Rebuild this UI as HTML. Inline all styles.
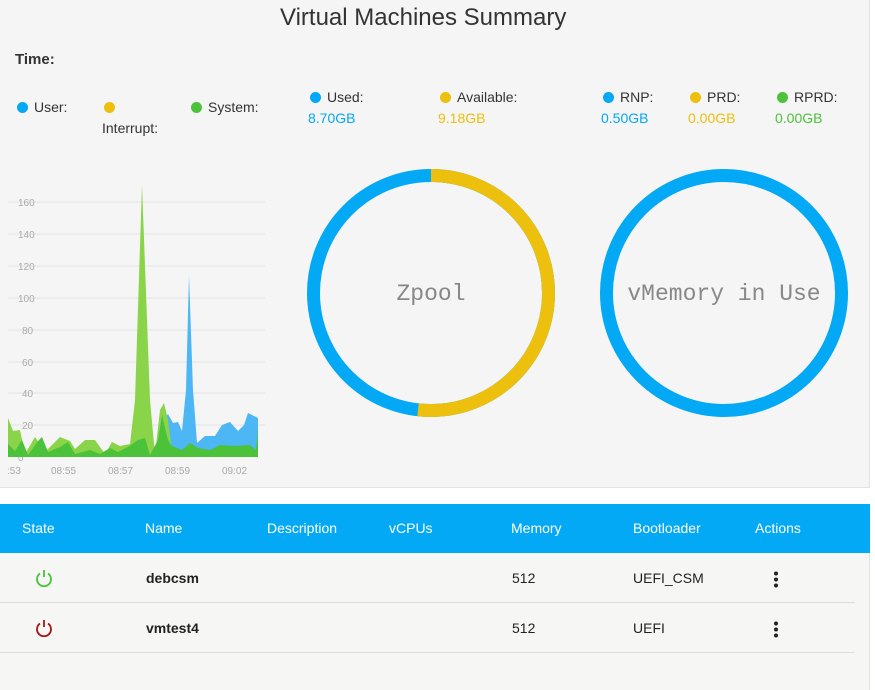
<!DOCTYPE html>
<html><head><meta charset="utf-8"><style>
*{margin:0;padding:0;box-sizing:border-box}
body{width:875px;height:690px;background:#fff;font-family:"Liberation Sans",sans-serif;position:relative;overflow:hidden}
.top{position:absolute;left:0;top:0;width:870px;height:488px;background:#f5f5f5;border-right:1px solid #e2e2e2;border-bottom:1px solid #e2e2e2}
.t{position:absolute;font-size:14px;color:#333}
.dot{display:inline-block;width:11px;height:11px;border-radius:50%;margin-right:6px;vertical-align:-1px}
.hdr{position:absolute;left:0;top:504px;width:870px;height:49px;background:#03a9f4}
.hdr span{position:absolute;top:16px;color:#fff;font-size:14px}
.rows{position:absolute;left:0;top:553px;width:870px;height:137px;background:#f6f6f4;border-right:1px solid #e2e2e2}
.row{position:absolute;left:0;width:855px;height:50px;border-bottom:1px solid #ddd}
.row span{position:absolute;top:17px;font-size:14px;color:#222}
</style></head><body>
<div class="top"></div>
<div class="t" style="left:280px;top:4px;font-size:24px;color:#333">Virtual Machines Summary</div>
<div class="t" style="left:15px;top:51px;font-weight:bold;font-size:15px">Time:</div>
<div class="t" style="left:17px;top:99px"><span class="dot" style="background:#03a9f4"></span>User:</div>
<div class="t" style="left:104px;top:99px"><span class="dot" style="background:#ecc00c"></span></div>
<div class="t" style="left:102px;top:120px">Interrupt:</div>
<div class="t" style="left:191px;top:99px"><span class="dot" style="background:#4cc23a"></span>System:</div>
<div class="t" style="left:310px;top:89px"><span class="dot" style="background:#03a9f4"></span>Used:</div>
<div class="t" style="left:308px;top:110px;color:#03a9f4">8.70GB</div>
<div class="t" style="left:440px;top:89px"><span class="dot" style="background:#ecc00c"></span>Available:</div>
<div class="t" style="left:438px;top:110px;color:#ecc00c">9.18GB</div>
<div class="t" style="left:603px;top:89px"><span class="dot" style="background:#03a9f4"></span>RNP:</div>
<div class="t" style="left:601px;top:110px;color:#03a9f4">0.50GB</div>
<div class="t" style="left:690px;top:89px"><span class="dot" style="background:#ecc00c"></span>PRD:</div>
<div class="t" style="left:688px;top:110px;color:#ecc00c">0.00GB</div>
<div class="t" style="left:777px;top:89px"><span class="dot" style="background:#4cc23a"></span>RPRD:</div>
<div class="t" style="left:775px;top:110px;color:#4cc23a">0.00GB</div>

<svg style="position:absolute;left:0;top:0" width="875" height="490">
<g stroke="#e4e4e4" stroke-width="1">
<line x1="8" x2="265" y1="202" y2="202"/><line x1="8" x2="265" y1="234" y2="234"/>
<line x1="8" x2="265" y1="266" y2="266"/><line x1="8" x2="265" y1="298" y2="298"/>
<line x1="8" x2="265" y1="330" y2="330"/><line x1="8" x2="265" y1="362" y2="362"/>
<line x1="8" x2="265" y1="393" y2="393"/><line x1="8" x2="265" y1="425" y2="425"/>
</g>
<g font-size="10" fill="#aaa" font-family="Liberation Sans,sans-serif">
<text x="18" y="206">160</text><text x="18" y="238">140</text><text x="18" y="270">120</text>
<text x="18" y="302">100</text><text x="22" y="334">80</text><text x="22" y="366">60</text>
<text x="22" y="397">40</text><text x="22" y="429">20</text><text x="18" y="461">0</text>
<text x="7" y="474">:53</text><text x="51" y="474">08:55</text><text x="108" y="474">08:57</text>
<text x="165" y="474">08:59</text><text x="222" y="474">09:02</text>
</g>
<path fill="#4db6f5" d="M160 457 L163 420 L168 414 L173 423 L178 422 L182 431 L186 390 L189 275 L193 390 L197 443 L205 436 L215 436 L222 425 L230 422 L238 431 L244 425 L248 413 L254 416 L258 418 L258 457Z"/>
<path fill="#8ad44a" d="M8 457 L8 418 L13 431 L20 430 L25 454 L35 437 L45 452 L60 437 L70 441 L75 449 L85 440 L95 440 L105 454 L112 442 L120 446 L130 444 L135 400 L142 185 L150 400 L155 455 L160 410 L164 403 L168 420 L172 452 L258 452 L258 457Z"/>
<path fill="#4cc23a" d="M8 457 L8 444 L15 451 L22 440 L28 455 L38 441 L42 437 L48 452 L60 447 L68 442 L75 454 L90 450 L100 454 L110 448 L118 452 L128 447 L138 440 L145 438 L150 455 L158 440 L162 415 L168 440 L172 446 L182 450 L190 443 L198 448 L210 450 L220 445 L235 446 L250 445 L256 450 L258 430 L258 457Z"/>
<circle cx="431" cy="293" r="117.5" fill="none" stroke="#03a9f4" stroke-width="13"/>
<circle cx="431" cy="293" r="117.5" fill="none" stroke="#ecc00c" stroke-width="13" stroke-dasharray="382 1000" transform="rotate(-90 431 293)"/>
<circle cx="724" cy="293" r="117.5" fill="none" stroke="#03a9f4" stroke-width="13"/>
<text x="431" y="300" text-anchor="middle" font-family="Liberation Mono,monospace" font-size="23" fill="#888">Zpool</text>
<text x="724" y="300" text-anchor="middle" font-family="Liberation Mono,monospace" font-size="23" fill="#888">vMemory in Use</text>
</svg>

<div class="hdr">
<span style="left:22px">State</span><span style="left:145px">Name</span><span style="left:267px">Description</span>
<span style="left:389px">vCPUs</span><span style="left:511px">Memory</span><span style="left:633px">Bootloader</span><span style="left:755px">Actions</span>
</div>
<div class="rows">
<div class="row" style="top:0">
<svg style="position:absolute;left:35px;top:16px" width="18" height="18"><path d="M5 4.5 A7 7 0 1 0 13 4.5" fill="none" stroke="#4cc23a" stroke-width="1.8"/><line x1="9" y1="1" x2="9" y2="8" stroke="#4cc23a" stroke-width="1.8"/></svg>
<span style="left:146px;font-weight:bold">debcsm</span><span style="left:512px">512</span><span style="left:633px">UEFI_CSM</span>
<svg style="position:absolute;left:773px;top:18px" width="6" height="18"><circle cx="3" cy="2.5" r="2" fill="#222"/><circle cx="3" cy="8.5" r="2" fill="#222"/><circle cx="3" cy="14.5" r="2" fill="#222"/></svg>
</div>
<div class="row" style="top:50px">
<svg style="position:absolute;left:35px;top:16px" width="18" height="18"><path d="M5 4.5 A7 7 0 1 0 13 4.5" fill="none" stroke="#a01818" stroke-width="1.8"/><line x1="9" y1="1" x2="9" y2="8" stroke="#a01818" stroke-width="1.8"/></svg>
<span style="left:146px;font-weight:bold">vmtest4</span><span style="left:512px">512</span><span style="left:633px">UEFI</span>
<svg style="position:absolute;left:773px;top:18px" width="6" height="18"><circle cx="3" cy="2.5" r="2" fill="#222"/><circle cx="3" cy="8.5" r="2" fill="#222"/><circle cx="3" cy="14.5" r="2" fill="#222"/></svg>
</div>
</div>
</body></html>
